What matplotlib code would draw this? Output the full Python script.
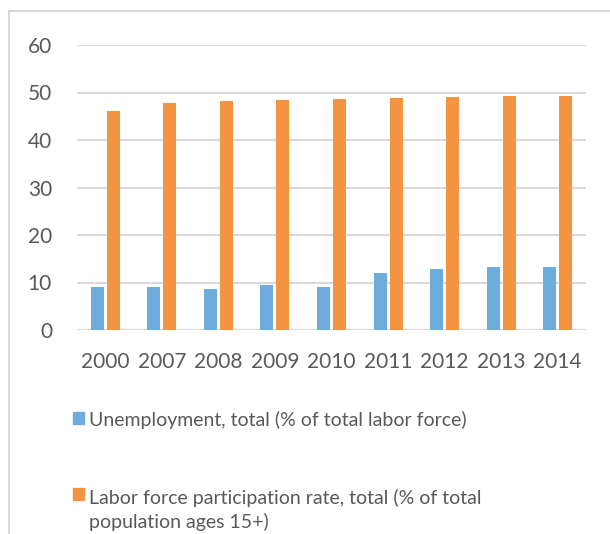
import matplotlib
matplotlib.use('Agg')
import matplotlib.pyplot as plt
from matplotlib.patches import Rectangle
from matplotlib.lines import Line2D
import numpy as np

years = ['2000', '2007', '2008', '2009', '2010', '2011', '2012', '2013', '2014']
unemployment = [9.0, 9.0, 8.7, 9.4, 9.0, 12.1, 12.8, 13.2, 13.2]
participation = [46.1, 47.8, 48.2, 48.4, 48.6, 48.8, 49.05, 49.2, 49.3]
labels = ['Unemployment, total (% of total labor force)',
          'Labor force participation rate, total (% of total\npopulation ages 15+)']

blue = '#6DADDC'
orange = '#F29441'
grid_col = '#D9D9D9'
text_col = '#595959'

plt.rcParams['font.family'] = ['Lato', 'DejaVu Sans']

fig = plt.figure(figsize=(6.1, 5.34), dpi=100)
ax = fig.add_axes([77 / 610, 1 - 330 / 534, 509 / 610, 285 / 534])

x = np.arange(len(years))
w = 0.23
ax.bar(x - 0.141, unemployment, w, color=blue, zorder=3)
ax.bar(x + 0.141, participation, w, color=orange, zorder=3)

ax.set_xlim(-0.5, len(years) - 0.5)
ax.set_ylim(0, 60)
ax.set_yticks(range(0, 61, 10))
ax.set_xticks(x)
ax.set_xticklabels(years)
ax.yaxis.grid(True, color=grid_col, linewidth=1.5, zorder=0)
for s in ax.spines.values():
    s.set_visible(False)
ax.tick_params(length=0, labelsize=15, labelcolor=text_col)
ax.tick_params(axis='x', pad=16)
ax.tick_params(axis='y', pad=18)
ax.axhline(0, color=grid_col, linewidth=1.5, zorder=2)

# chart frame (left and top edges)
fig.add_artist(Line2D([8.5 / 610, 8.5 / 610], [0, 1 - 11 / 534],
                      transform=fig.transFigure, color=grid_col, linewidth=1.5))
fig.add_artist(Line2D([8.5 / 610, 1], [1 - 11 / 534, 1 - 11 / 534],
                      transform=fig.transFigure, color=grid_col, linewidth=1.5))

# legend entries: (colour, square centre y, first baseline y) in pixels from top
entries = [(blue, 418, 426), (orange, 494, 504)]
line_step = 24
for (col, yc, yb), lab in zip(entries, labels):
    fig.add_artist(Rectangle((73 / 610, 1 - (yc + 6) / 534), 11 / 610, 12 / 534,
                             transform=fig.transFigure, color=col))
    for i, part in enumerate(lab.split('\n')):
        fig.text(89 / 610, 1 - (yb + i * line_step) / 534, part, fontsize=14,
                 color=text_col, va='baseline', ha='left')

fig.savefig('out.png', dpi=100)
